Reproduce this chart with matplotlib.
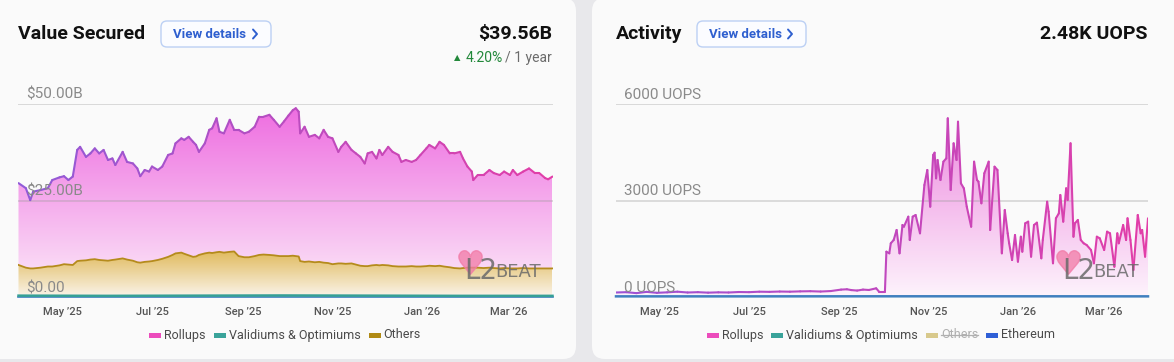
import numpy as np
import matplotlib
matplotlib.use("Agg")
import matplotlib.pyplot as plt
from matplotlib.patches import FancyBboxPatch, Rectangle
from matplotlib.collections import LineCollection
from matplotlib.colors import LinearSegmentedColormap, to_rgb
from matplotlib.lines import Line2D
from matplotlib.transforms import Affine2D
import datetime as dt

W, H = 1174, 362
plt.rcParams['font.family'] = ['Roboto', 'DejaVu Sans']

# ---------------- data ----------------
START = dt.date(2025, 4, 1)
month_ticks = ['2025-05-01', '2025-07-01', '2025-09-01', '2025-11-01', '2026-01-01', '2026-03-01']
month_labels = ["May \u201925", "Jul \u201925", "Sep \u201925", "Nov \u201925", "Jan \u201926", "Mar \u201926"]

# Value Secured (USD billions), day offsets from START
vs_days = [0, 5, 8, 10, 15, 20, 23, 28, 31, 34,
           37, 40, 42, 46, 49, 52, 55, 58, 61, 64,
           66, 71, 74, 78, 81, 83, 86, 89, 91, 95,
           98, 102, 105, 107, 111, 113, 116, 119, 121, 123,
           127, 130, 132, 135, 137, 140, 144, 147, 150, 154,
           157, 161, 164, 167, 171, 174, 178, 181, 184, 187,
           189, 191, 192, 195, 198, 202, 205, 208, 211, 214,
           218, 220, 223, 227, 230, 233, 236, 238, 241, 244,
           246, 248, 252, 255, 259, 261, 264, 268, 271, 274,
           278, 280, 284, 287, 290, 294, 297, 301, 303, 306,
           309, 310, 313, 317, 321, 324, 328, 331, 335, 337,
           340, 344, 348, 352, 355, 359, 361, 364]
vs_rollups = [21.2, 20.6, 17.7, 19.9, 20.1, 20.3, 22.4, 22.8, 22.8, 21.9,
              22.9, 28.8, 29.5, 26.8, 27.5, 28.7, 27.6, 28.6, 26.1, 26.3,
              24.5, 27.6, 25.3, 25.2, 24.3, 22.4, 23.8, 23.3, 24.5, 23.3,
              23.9, 26.4, 26.3, 28.5, 29.6, 29.5, 30.7, 29.8, 28.9, 26.7,
              28.5, 31.8, 32.3, 34.7, 31.1, 30.9, 34.2, 31.5, 32.7, 32.1,
              32.5, 33.5, 35.8, 35.7, 36.3, 35.1, 33.5, 34.9, 36.4, 37.7,
              38.3, 37.5, 33.1, 35.0, 32.3, 33.0, 32.0, 34.4, 32.7, 32.6,
              28.9, 30.2, 31.6, 29.4, 28.8, 28.2, 26.6, 29.2, 29.4, 27.6,
              29.9, 28.5, 30.7, 29.6, 28.9, 27.1, 27.6, 27.0, 27.6, 28.9,
              30.5, 31.3, 30.5, 32.1, 31.5, 29.5, 29.7, 30.2, 28.4, 26.2,
              24.9, 22.7, 24.0, 24.1, 25.3, 24.6, 24.2, 25.0, 24.2, 25.5,
              24.2, 25.0, 25.9, 24.7, 24.7, 23.4, 23.1, 23.8]
vs_others = [8.3, 7.6, 7.4, 7.4, 7.6, 7.9, 7.9, 8.2, 8.5, 8.4,
             8.3, 9.3, 9.4, 9.5, 9.7, 9.8, 9.6, 9.5, 9.4, 9.6,
             9.7, 10.0, 9.7, 9.4, 9.0, 8.9, 9.1, 9.2, 9.3, 9.6,
             9.9, 10.4, 10.9, 11.3, 11.5, 11.2, 10.8, 10.4, 10.5, 10.9,
             11.3, 11.5, 11.4, 11.6, 11.7, 11.5, 11.7, 11.8, 10.6, 10.3,
             10.3, 10.6, 10.9, 11.0, 10.9, 10.8, 10.6, 10.6, 10.6, 10.7,
             10.6, 10.5, 9.3, 9.1, 9.2, 9.0, 9.1, 8.9, 8.8, 8.5,
             8.7, 8.7, 8.6, 8.7, 8.4, 8.1, 8.0, 8.0, 8.2, 8.3,
             8.2, 8.3, 8.2, 8.0, 7.9, 7.9, 7.9, 8.0, 7.9, 7.9,
             8.0, 8.1, 8.0, 8.1, 7.9, 7.7, 7.5, 7.4, 7.5, 7.6,
             7.6, 7.6, 7.6, 7.5, 7.6, 7.5, 7.4, 7.5, 7.4, 7.4,
             7.4, 7.5, 7.4, 7.4, 7.4, 7.4, 7.4, 7.4]
vs_valid_days = [0, 60, 120, 180, 240, 300, 364]
vs_validiums = [0.35, 0.3, 0.35, 0.4, 0.35, 0.3, 0.3]

# Activity (UOPS)
act_days = [0, 7, 14, 21, 28, 35, 42, 49, 56, 63, 70, 77, 84, 91, 98, 105, 112, 119, 126, 133,
            140, 147, 154, 158, 161, 165, 169,
            173, 178, 180, 184, 185, 187, 188, 190, 192, 194, 196, 197, 200, 201, 203, 205, 208,
            211, 213, 215, 217, 218, 219, 220, 222, 224, 226, 227, 229, 231, 233, 234, 236, 238,
            240, 243, 245, 247, 248, 250, 252, 255, 256, 259, 261, 264, 266, 268, 269, 271, 273,
            275, 277, 278, 280, 282, 284, 286, 288, 291, 292, 295, 296, 299, 301, 303, 304, 306,
            308, 309, 311, 313, 314, 316, 318, 320, 322, 325, 327, 329, 331, 334, 336, 338, 341,
            343, 344, 347, 349, 350, 352, 354, 357, 359, 360, 362, 364]
act_rollups = [140, 150, 120, 160, 130, 145, 165, 140, 150, 135, 145, 140, 155, 150, 165, 160, 170, 165, 175, 180,
               170, 185, 230, 240, 215, 200, 230,
               218, 270, 165, 165, 1409, 1358, 1669, 1772, 2083, 1358, 2238, 2186, 2497, 1772, 2497, 2549, 1980,
               3482, 3948, 2808, 4415, 4486, 3689, 4259, 3637, 4207, 4311, 5555, 3326, 4778, 4259, 5450, 3534, 3379,
               2808, 2186, 4207, 3637, 3585, 2913, 3845, 4207, 2083, 4051, 3948, 1358, 2705, 1980, 1669, 1150, 1927,
               1098, 1875, 1409, 2291, 2342, 1254, 2238, 2311, 1203, 1772, 2963, 2652, 1048, 2447, 2601, 3171, 2342,
               3379, 3015, 4778, 1875, 2291, 2394, 1772, 1669, 1617, 1461, 1048, 1875, 1824, 1461, 2031, 1980, 942,
               1980, 1669, 2238, 1772, 2447, 1772, 839, 2549, 1980, 2083, 1254, 2447]
act_eth_days = [0, 90, 180, 270, 364]
act_ethereum = [20, 20, 22, 22, 20]

legend_left = ['Rollups', 'Validiums & Optimiums', 'Others']
legend_right = ['Rollups', 'Validiums & Optimiums', 'Others', 'Ethereum']

assert len(vs_days) == len(vs_rollups) == len(vs_others)
assert len(act_days) == len(act_rollups)

# ---------------- figure ----------------
fig = plt.figure(figsize=(W / 100, H / 100), dpi=100, facecolor='#e8e8eb')
PX = Affine2D().scale(1 / W, 1 / H) + fig.transFigure


def card(x0, y0, x1, y1):
    p = FancyBboxPatch((x0, H - y1), x1 - x0, y1 - y0, boxstyle="round,pad=0,rounding_size=13",
                       transform=PX, facecolor='#fafafa', edgecolor='none', zorder=0)
    fig.add_artist(p)


card(-40, -2, 576, 359)
card(592, -2, 1220, 359)


def ftext(x, y, s, **kw):
    kw.setdefault('va', 'center')
    return fig.text(x / W, 1 - y / H, s, **kw)


def view_button(x0, x1):
    b = FancyBboxPatch((x0, H - 47), x1 - x0, 26, boxstyle="round,pad=0,rounding_size=6",
                       transform=PX, facecolor='#fbfcff', edgecolor='#bcd0f4', lw=1.0, zorder=2)
    fig.add_artist(b)
    ftext(x0 + 12, 34, 'View details', fontsize=9.5, fontweight='bold', color='#2e5fcf', zorder=3)
    cx = x1 - 16
    fig.add_artist(Line2D([cx - 2, cx + 2, cx - 2], [H - 29.5, H - 34, H - 38.5], transform=PX,
                          color='#2e5fcf', lw=1.4, solid_capstyle='round', solid_joinstyle='round'))


def grad_fill(ax, x, lo, hi, c_bot, c_top, vbot, vtop, z=1):
    coll = ax.fill_between(x, lo, hi, facecolor='none', edgecolor='none', lw=0)
    cmap = LinearSegmentedColormap.from_list('g', [c_bot, c_top])
    grad = np.linspace(0, 1, 256).reshape(-1, 1)
    im = ax.imshow(grad, extent=[x[0], x[-1], vbot, vtop], origin='lower', aspect='auto',
                   cmap=cmap, zorder=z, interpolation='bilinear')
    im.set_clip_path(coll.get_paths()[0], coll.get_transform())


def grad_line(ax, x, y, c0, c1, lw, z=4):
    x = np.asarray(x, float)
    y = np.asarray(y, float)
    pts = np.column_stack([x, y])
    segs = np.stack([pts[:-1], pts[1:]], axis=1)
    t = ((x[:-1] + x[1:]) / 2 - x[0]) / (x[-1] - x[0])
    a, b = np.array(to_rgb(c0)), np.array(to_rgb(c1))
    cols = [(1 - ti) * a + ti * b for ti in t]
    lc = LineCollection(segs, colors=cols, linewidths=lw, capstyle='round', joinstyle='round', zorder=z)
    ax.add_collection(lc)


tick_days = [(dt.date.fromisoformat(d) - START).days for d in month_ticks]


def setup_axes(ax, ymax):
    ax.set_xlim(0, 364)
    ax.set_ylim(0, ymax)
    ax.set_facecolor('none')
    for s in ax.spines.values():
        s.set_visible(False)
    ax.set_yticks([])
    ax.set_xticks(tick_days)
    ax.set_xticklabels(month_labels)
    ax.tick_params(axis='x', length=0, pad=7, labelsize=8, labelcolor='#555555')
    for lab in ax.get_xticklabels():
        lab.set_fontweight('medium')


NARROW = ['Liberation Sans Narrow', 'DejaVu Sans']


def watermark(x0):
    fig.add_artist(Line2D([x0 + 8], [H - 262], transform=PX, marker='$\u2665$', markersize=17,
                          color='#f27aa6', alpha=0.75, linestyle='none', zorder=5))
    ftext(x0 + 2, 271, 'L2', fontsize=20, color='#6a6a6a', alpha=0.85, ha='left', zorder=6,
          family=NARROW)
    ftext(x0 + 33, 272, 'BEAT', fontsize=13, color='#6a6a6a', alpha=0.85, ha='left', zorder=6,
          family=NARROW)


# ---------------- left card: Value Secured ----------------
axL = fig.add_axes([18.5 / W, (H - 297) / H, 534 / W, 193 / H])
d = np.array(vs_days, float)
oth = np.array(vs_others)
tot = oth + np.array(vs_rollups)
grad_fill(axL, d, np.zeros_like(oth), oth, '#faf4ea', '#e0b95a', 0, 12)
grad_fill(axL, d, oth, tot, '#fcecf9', '#ee6be0', 0, 50)
axL.plot(d, oth, color='#b58b1c', lw=1.3, zorder=4)
grad_line(axL, d, tot, '#8f5bd8', '#e23ea8', 1.5)
axL.plot(vs_valid_days, vs_validiums, color='#35a096', lw=1.8, zorder=4, clip_on=False)
axL.axhline(0, color='#3f7fbf', lw=1.2, zorder=3, clip_on=False)
axL.axhline(50, color='#d6d6d6', lw=1.3, zorder=3)
axL.axhline(25, color='#9a9a9a', lw=1.3, alpha=0.35, zorder=3)
setup_axes(axL, 50)

ftext(18, 34, 'Value Secured', fontsize=14, fontweight='bold', color='#111111')
view_button(161, 271)
ftext(552, 34, '$39.56B', fontsize=14, fontweight='bold', color='#111111', ha='right')
ftext(552, 58, '/ 1 year', fontsize=10, color='#6b6b6b', ha='right')
ftext(503, 58, '4.20%', fontsize=10, color='#22883a', ha='right')
ftext(457, 58, '\u25b2', fontsize=6, color='#22883a', ha='center', family=['DejaVu Sans'])
ftext(26, 94, '$50.00B', fontsize=11, color='#8a8a8a')
ftext(26, 191, '$25.00B', fontsize=11, color='#8a8a8a')
ftext(26, 288, '$0.00', fontsize=11, color='#8a8a8a')
watermark(462)

# ---------------- right card: Activity ----------------
axR = fig.add_axes([616 / W, (H - 297) / H, 532 / W, 193 / H])
ad = np.array(act_days, float)
ar = np.array(act_rollups, float)
grad_fill(axR, ad, np.zeros_like(ar), ar, '#fdf3fc', '#ec80dc', 0, 6000)
grad_line(axR, ad, ar, '#9d52d4', '#e23ea8', 1.5)
axR.plot(act_eth_days, act_ethereum, color='#3f7fbf', lw=1.8, zorder=4, clip_on=False)
axR.axhline(6000, color='#d6d6d6', lw=1.3, zorder=3)
axR.axhline(3000, color='#9a9a9a', lw=1.3, alpha=0.35, zorder=3)
setup_axes(axR, 6000)

ftext(616, 34, 'Activity', fontsize=14, fontweight='bold', color='#111111')
view_button(697, 806)
ftext(1148, 34, '2.48K UOPS', fontsize=14, fontweight='bold', color='#111111', ha='right')
ftext(624, 95, '6000 UOPS', fontsize=11, color='#8a8a8a')
ftext(624, 191, '3000 UOPS', fontsize=11, color='#8a8a8a')
ftext(624, 288, '0 UOPS', fontsize=11, color='#8a8a8a')
watermark(1060)

# ---------------- legends ----------------
renderer = fig.canvas.get_renderer()


def legend_row(center, labels, colors, text_colors, strike=()):
    texts = [ftext(0, 335, lab, fontsize=9, color=tc) for lab, tc in zip(labels, text_colors)]
    widths = [t.get_window_extent(renderer).width for t in texts]
    gap, mw, sp = 8, 12, 3
    total = sum(mw + sp + w for w in widths) + gap * (len(labels) - 1)
    x = center - total / 2
    for t, w, c, lab in zip(texts, widths, colors, labels):
        fig.add_artist(Rectangle((x, H - 337.5), mw, 4.5, transform=PX, facecolor=c, edgecolor='none'))
        t.set_x((x + mw + sp) / W)
        if lab in strike:
            fig.add_artist(Line2D([x + mw + sp, x + mw + sp + w], [H - 335, H - 335], transform=PX,
                                  color='#b0b0b0', lw=0.9))
        x += mw + sp + w + gap


legend_row(285, legend_left, ['#ec4cbc', '#3aa39a', '#b08a14'], ['#4a4a4a'] * 3)
legend_row(881, legend_right, ['#ec4cbc', '#3aa39a', '#d8c98c', '#2f5fd6'],
           ['#4a4a4a', '#4a4a4a', '#b0b0b0', '#4a4a4a'], strike=('Others',))

fig.savefig('out.png', dpi=100, facecolor=fig.get_facecolor())
